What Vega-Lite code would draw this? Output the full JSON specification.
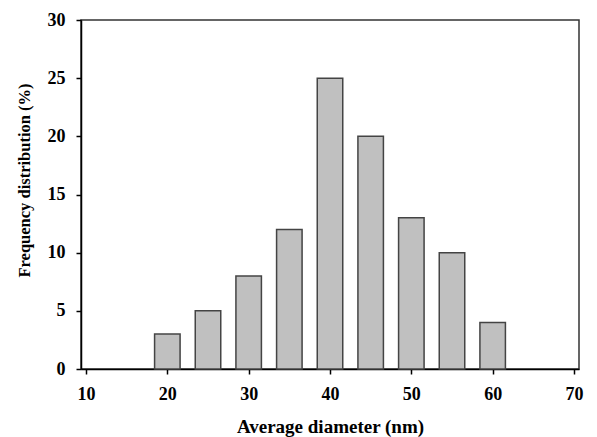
{
  "$schema": "https://vega.github.io/schema/vega-lite/v6.json",
  "autosize": "none",
  "width": 498,
  "height": 349,
  "padding": {"left": 81, "top": 20, "right": 18, "bottom": 68},
  "background": "white",
  "config": {
    "view": {"stroke": "#333", "strokeWidth": 1.5},
    "font": "Liberation Serif"
  },
  "data": {
    "values": [
      {"diameter": 20, "frequency": 3},
      {"diameter": 25, "frequency": 5},
      {"diameter": 30, "frequency": 8},
      {"diameter": 35, "frequency": 12},
      {"diameter": 40, "frequency": 25},
      {"diameter": 45, "frequency": 20},
      {"diameter": 50, "frequency": 13},
      {"diameter": 55, "frequency": 10},
      {"diameter": 60, "frequency": 4}
    ]
  },
  "mark": {"type": "bar", "width": 25.5, "fill": "#c0c0c0", "stroke": "#444", "strokeWidth": 1.5},
  "encoding": {
    "x": {
      "field": "diameter", "type": "quantitative",
      "scale": {"domain": [10, 70], "nice": false, "zero": false},
      "axis": {
        "values": [10, 20, 30, 40, 50, 60, 70],
        "title": "Average diameter (nm)",
        "grid": false, "domainColor": "black", "domainWidth": 1.5,
        "tickColor": "black", "tickSize": 5, "tickWidth": 1.5,
        "labelFont": "Liberation Serif", "labelFontWeight": "bold", "labelFontSize": 18, "labelColor": "black",
        "labelPadding": 11,
        "titleFont": "Liberation Serif", "titleFontWeight": "bold", "titleFontSize": 19, "titleColor": "black",
        "titlePadding": 14
      }
    },
    "y": {
      "field": "frequency", "type": "quantitative",
      "scale": {"domain": [0, 30], "nice": false},
      "axis": {
        "values": [0, 5, 10, 15, 20, 25, 30],
        "title": "Frequency distribution (%)",
        "grid": false, "domainColor": "black", "domainWidth": 1.5,
        "tickColor": "black", "tickSize": 5, "tickWidth": 1.5,
        "labelFont": "Liberation Serif", "labelFontWeight": "bold", "labelFontSize": 18, "labelColor": "black",
        "labelPadding": 11,
        "titleFont": "Liberation Serif", "titleFontWeight": "bold", "titleFontSize": 16.5, "titleColor": "black",
        "titlePadding": 15,
        "titleY": 160
      }
    }
  }
}
